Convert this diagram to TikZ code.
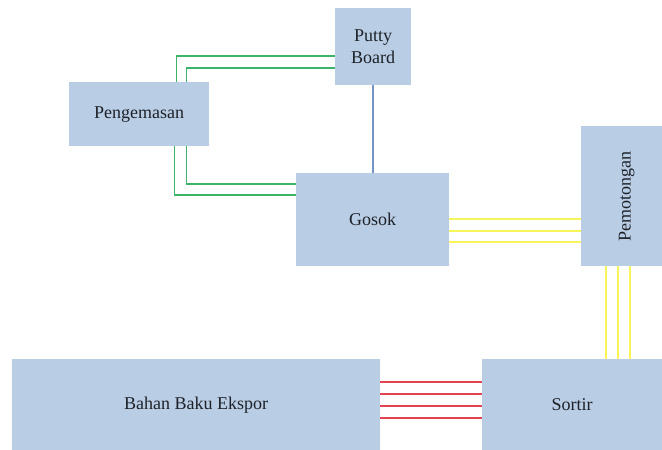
\documentclass[tikz,border=0pt]{standalone}
\usepackage{fontspec}
\setmainfont{LiberationSerif}[Extension=.ttf, UprightFont=*-Regular, BoldFont=*-Bold]
\usetikzlibrary{calc}
\definecolor{boxfill}{HTML}{B9CDE5}
\definecolor{boxtext}{HTML}{1E2228}
\definecolor{linkgreen}{HTML}{3CB46A}
\definecolor{linkyellow}{HTML}{F8F55A}
\definecolor{linkred}{HTML}{E0444E}
\definecolor{linkblue}{HTML}{7493C4}
\tikzset{
  box/.style={fill=boxfill, draw=none, inner sep=0pt, anchor=north west,
    text=boxtext, align=center,
    font=\rmfamily\fontsize{18}{22}\selectfont},
  gline/.style={draw=linkgreen, line width=1.8pt},
  yline/.style={draw=linkyellow, line width=2pt},
  rline/.style={draw=linkred, line width=1.8pt},
  bline/.style={draw=linkblue, line width=1.5pt},
}
\begin{document}
\begin{tikzpicture}[x=1pt, y=1pt]
\useasboundingbox (0,0) rectangle (662,-450);

% process boxes
\node[box, minimum width=76pt,  minimum height=77pt] (putty)  at (335,-8)   {Putty\\Board};
\node[box, minimum width=140pt, minimum height=64pt] (peng)   at (69,-82)   {Pengemasan};
\node[box, minimum width=153pt, minimum height=93pt] (gosok)  at (296,-173) {Gosok};
\node[box, minimum width=81pt,  minimum height=140pt] (pemo)  at (581,-126) {\hspace*{10pt}\rotatebox{90}{Pemotongan}};
\node[box, minimum width=368pt, minimum height=91pt] (bahan)  at (12,-359)  {Bahan Baku Ekspor};
\node[box, minimum width=180pt, minimum height=91pt] (sortir) at (482,-359) {Sortir};

% Pengemasan <-> Putty Board
\draw[gline] ([xshift=-33pt]peng.north east) |- ([yshift=-48pt]putty.north west);
\draw[gline] ([xshift=-23pt]peng.north east) |- ([yshift=-60pt]putty.north west);
% Pengemasan <-> Gosok
\draw[gline] ([xshift=-35pt]peng.south east) |- ([yshift=-22pt]gosok.north west);
\draw[gline] ([xshift=-23pt]peng.south east) |- ([yshift=-11pt]gosok.north west);

% Putty Board <-> Gosok
\draw[bline] (putty.south) -- (putty.south |- gosok.north);

% Gosok <-> Pemotongan
\foreach \d [count=\i] in {46,58,69} {
  \coordinate (g\i) at ([yshift=-\d pt]gosok.north east);
  \draw[yline] (g\i) -- (g\i -| pemo.west);
}
% Pemotongan <-> Sortir
\foreach \d [count=\i] in {25,37,49} {
  \coordinate (p\i) at ([xshift=\d pt]pemo.south west);
  \draw[yline] (p\i) -- (p\i |- sortir.north);
}
% Bahan Baku Ekspor <-> Sortir
\foreach \d [count=\i] in {23,35,47,59} {
  \coordinate (b\i) at ([yshift=-\d pt]bahan.north east);
  \draw[rline] (b\i) -- (b\i -| sortir.west);
}
\end{tikzpicture}
\end{document}
